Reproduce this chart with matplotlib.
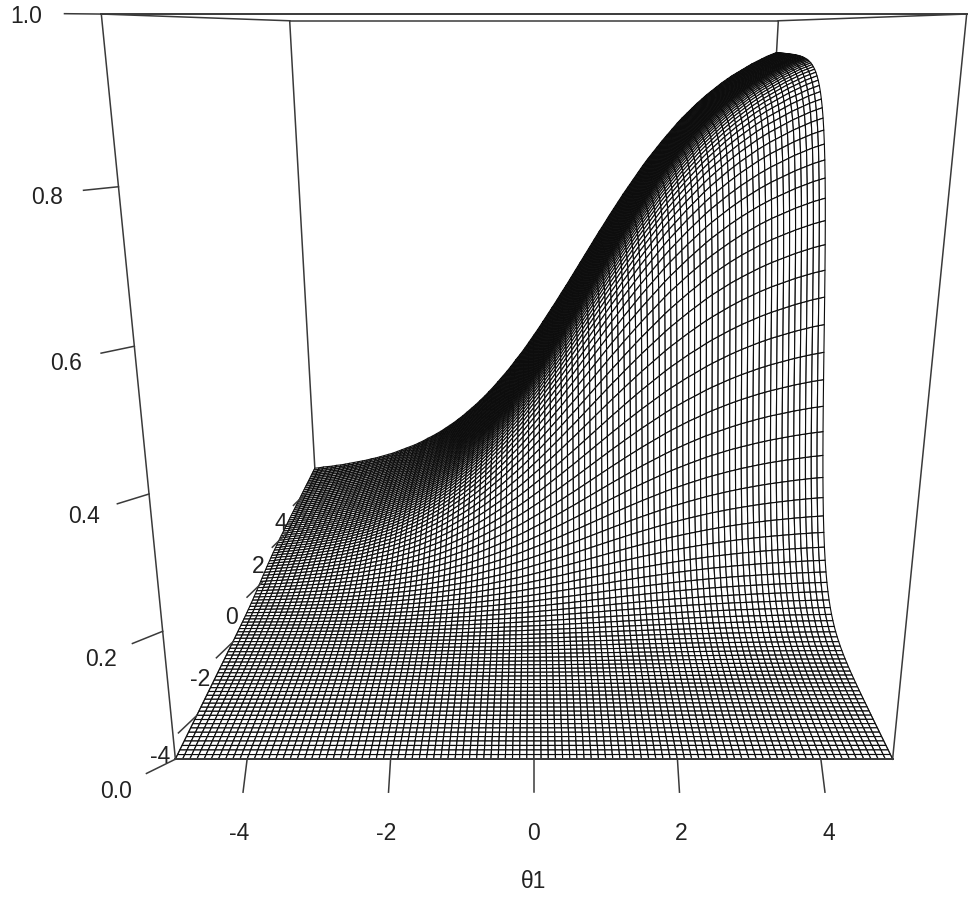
import numpy as np
import matplotlib
matplotlib.use("Agg")
import matplotlib.pyplot as plt
from mpl_toolkits.mplot3d import proj3d

plt.rcParams['font.family'] = ['Liberation Sans', 'DejaVu Sans']

# height of the back edge (theta2 = 5) going left to right
back_edge = [
    .016, .017, .019, .020, .021, .023, .024, .026, .028, .030,
    .032, .034, .036, .039, .041, .044, .047, .050, .053, .057,
    .061, .065, .069, .073, .078, .083, .089, .094, .100, .106,
    .113, .120, .127, .135, .143, .152, .161, .170, .180, .190,
    .201, .212, .224, .236, .248, .261, .275, .288, .302, .317,
    .332, .347, .363, .379, .395, .411, .428, .444, .461, .478,
    .495, .512, .529, .546, .563, .579, .596, .612, .628, .644,
    .659, .674, .689, .704, .718, .731, .744, .757, .769, .781,
    .793, .804, .814, .824, .834, .843, .852, .860, .868, .876,
    .883, .890, .896, .902, .908, .914, .919, .924, .929, .933,
    .937]

# right edge (theta1 = 5) going front to back, as a fraction of the back edge height
right_edge = [
    .0001, .0001, .0001, .0001, .0001, .0001, .0002, .0002, .0002, .0003,
    .0004, .0005, .0006, .0007, .0008, .0010, .0012, .0015, .0018, .0022,
    .0027, .0033, .0041, .0050, .0061, .0074, .0090, .0110, .0134, .0163,
    .0198, .0241, .0293, .0356, .0431, .0522, .0630, .0759, .0911, .1091,
    .1301, .1545, .1824, .2142, .2497, .2891, .3318, .3775, .4256, .4750,
    .5250, .5744, .6225, .6682, .7109, .7503, .7858, .8176, .8455, .8699,
    .8909, .9089, .9241, .9370, .9478, .9569, .9644, .9707, .9759, .9802,
    .9837, .9866, .9890, .9910, .9926, .9939, .9950, .9959, .9967, .9973,
    .9978, .9982, .9985, .9988, .9990, .9992, .9993, .9994, .9995, .9996,
    .9997, .9997, .9997, .9998, .9998, .9998, .9998, .9999, .9999, .9999,
    .9999]

x_ticks = [-4, -2, 0, 2, 4]
y_ticks = [-4, -2, 0, 2, 4]
z_ticks = [0.0, 0.2, 0.4, 0.6, 0.8, 1.0]

theta1 = np.linspace(-5, 5, 101)
theta2 = np.linspace(-5, 5, 101)
X, Y = np.meshgrid(theta1, theta2)
Z = np.outer(right_edge, back_edge)

fig = plt.figure(figsize=(9.71, 9.1), dpi=100)
ax = fig.add_axes([66.7 / 971, 122.7 / 910, 910 / 971, 1.0], projection='3d', computed_zorder=False)
ax.set_axis_off()
ax.set_xlim(-5, 5, view_margin=0)
ax.set_ylim(-5, 5, view_margin=0)
ax.set_zlim(0, 1, view_margin=0)
ax.set_box_aspect((1, 1, 1), zoom=1.074)
ax.set_proj_type('persp', focal_length=0.2204)
ax.view_init(elev=15, azim=-90)

box_col = '#3a3a3a'
tick_col = '#3a3a3a'
text_col = '#222222'
# one pixel in the projected coordinates of the 3d axes
px = 0.185 / 910


def seg(p, q, z=3, lw=1.1, col=box_col):
    ax.plot([p[0], q[0]], [p[1], q[1]], [p[2], q[2]], color=col, lw=lw, zorder=z, clip_on=False)


def label(x, y, z, s, down=0):
    # project by hand so the text sits in plain 2d data coords
    x2, y2, _ = proj3d.proj_transform(x, y, z, ax.get_proj())
    ax.text2D(x2, y2 - down * px, s, transform=ax.transData, ha='center', va='center',
              fontsize=16.5, color=text_col, zorder=4)


# back of the box goes behind the surface
seg((-5, 5, 0), (-5, 5, 1), z=1)
seg((5, 5, 0), (5, 5, 1), z=1)
seg((-5, 5, 1), (5, 5, 1), z=1)
seg((-5, 5, 0), (5, 5, 0), z=1)
seg((-5, -5, 0), (-5, 5, 0), z=1)
seg((5, -5, 0), (5, 5, 0), z=1)

ax.plot_surface(X, Y, Z, rstride=1, cstride=1, color='white', edgecolor='#0d0d0d',
                linewidth=0.82, shade=False, antialiased=True, zorder=2)

# front of the box
seg((-5, -5, 0), (5, -5, 0), lw=1.4)
seg((-5, -5, 0), (-5, -5, 1))
seg((5, -5, 0), (5, -5, 1))
seg((-5, -5, 1), (5, -5, 1), lw=1.4)
seg((-5, -5, 1), (-5, 5, 1))
seg((5, -5, 1), (5, 5, 1))

# tick offsets are in data units, away from the box edge
dxy = 0.3
dz = 0.03

for t in x_ticks:
    seg((t, -5, 0), (t, -5 - dxy, -dz), col=tick_col)
    label(t, -5 - 2 * dxy, -2 * dz, str(t), down=7)

for t in y_ticks:
    seg((-5, t, 0), (-5 - dxy, t, -dz), col=tick_col)
    label(-5 - 2 * dxy, t, -2 * dz, str(t), down=6)

for t in z_ticks:
    seg((-5, -5, t), (-5 - dxy, -5 - dxy, t), col=tick_col)
    label(-5 - 2 * dxy, -5 - 2 * dxy, t, f"{t:.1f}", down=3)

label(0, -5 - 1.05, -0.105, "θ1", down=3)

fig.savefig("out.png", dpi=100)
